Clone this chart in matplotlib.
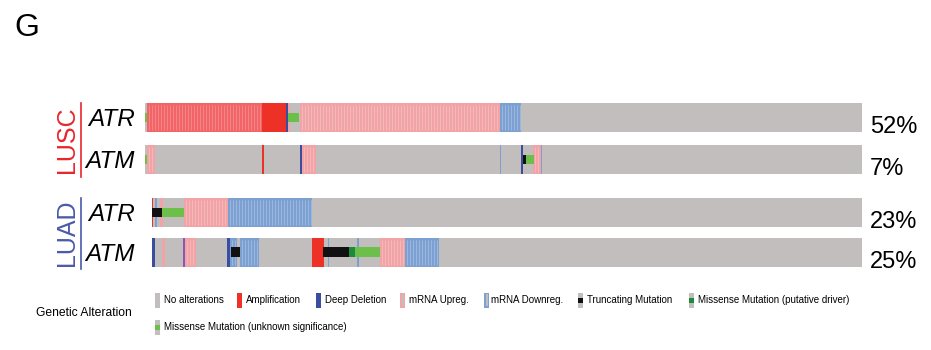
import matplotlib
matplotlib.use("Agg")
import matplotlib.pyplot as plt
from matplotlib.patches import Rectangle

plt.rcParams['font.family'] = ['Liberation Sans', 'DejaVu Sans']

# ---------------- data ----------------
groups = ["LUSC", "LUAD"]
genes = ["ATR", "ATM", "ATR", "ATM"]
percents = ["52%", "7%", "23%", "25%"]
row_start = [0, 0, 7, 7]      # first sample index of each row
n_total = 717                 # last sample index (shared axis)

# (start, end, alteration type) in sample index units
lusc_atr = [(2, 117, "amp_up"), (117, 141, "amp"), (141, 143, "del"), (143, 145, "up"),
            (155, 355, "up"), (355, 376, "down")]
lusc_atr_mut = [(0, 2, "mis"), (143, 154, "mis")]

lusc_atm = [(2, 10, "up"), (117, 119, "amp"), (155, 157, "del"), (157, 171, "up"),
            (354.5, 355.5, "down"), (376, 378, "del"), (388, 396, "up"), (396, 397, "down")]
lusc_atm_mut = [(0, 2, "mis"), (378, 380.5, "trunc"), (380.5, 389, "mis")]

luad_atr = [(7, 8, "amp"), (10, 11.5, "down"), (15, 18, "up"), (39, 83, "up"), (83, 167, "down")]
luad_atr_mut = [(7, 17, "trunc"), (17, 39, "mis")]

luad_atm = [(7, 10, "del"), (17, 20, "up"), (38, 40, "del_up"), (40, 51, "up"),
            (82, 85, "del"), (85, 92, "down"), (95, 114, "down"), (167, 179, "amp"),
            (183, 184, "down"), (212, 214, "down"), (235, 260, "up"), (260, 294, "down")]
luad_atm_mut = [(86, 95, "trunc"), (178, 204, "trunc"), (204, 210, "drv"), (210, 235, "mis")]

rows_cna = [lusc_atr, lusc_atm, luad_atr, luad_atm]
rows_mut = [lusc_atr_mut, lusc_atm_mut, luad_atr_mut, luad_atm_mut]

legend_labels = ["No alterations", "Amplification", "Deep Deletion", "mRNA Upreg.",
                 "mRNA Downreg.", "Truncating Mutation", "Missense Mutation (putative driver)",
                 "Missense Mutation (unknown significance)"]
legend_types = ["none", "amp", "del", "up", "down", "trunc", "drv", "mis"]

# ---------------- style ----------------
GRAY = "#C2BEBD"
colors = {"amp": "#EE3126", "amp_up": "#F26466", "del": "#3A4D9E", "del_up": "#8A58B0",
          "up": "#F2A3A6", "down": "#7CA0D2", "trunc": "#111111", "drv": "#1E8A3C",
          "mis": "#6CC04A"}
stripe = {"amp_up": "#F58C8E", "up": "#F6BDBF", "down": "#A3BCE0"}

fig = plt.figure(figsize=(9.31, 3.5), dpi=100)
px_top, px_bot = 96.5, 272.9
ax = fig.add_axes([145 / 931, 1 - px_bot / 350, 717 / 931, (px_bot - px_top) / 350])
row_y = [0.0, 1.0, 2.26, 3.21]
h = 0.69
ax.set_xlim(0, n_total)
ax.set_ylim(3.7, -0.5)
ax.axis("off")

for i in range(4):
    y = row_y[i]
    s = row_start[i]
    ax.add_patch(Rectangle((s, y - h / 2), n_total - s, h, facecolor=GRAY, edgecolor="none", zorder=1))
    for (a, b, t) in rows_cna[i]:
        ax.add_patch(Rectangle((a, y - h / 2), b - a, h, facecolor=colors[t], edgecolor="none", zorder=1))
        if t in stripe and b - a > 4:
            xs = [a + 1.5 + 3 * k for k in range(int((b - a - 1.5) // 3) + 1) if a + 1.5 + 3 * k < b - 0.5]
            ax.vlines(xs, y - h / 2 + 0.04, y + h / 2 - 0.04, colors=stripe[t], linewidth=0.6, zorder=2)
    for (a, b, t) in rows_mut[i]:
        ax.add_patch(Rectangle((a, y - h / 6), b - a, h / 3, facecolor=colors[t], edgecolor="none", zorder=3))

# gene labels & percentages
for i in range(4):
    ax.text(-10, row_y[i] + 0.05, genes[i], ha="right", va="center", fontsize=17.5,
            style="italic", color="black")
    ax.text(n_total + 8, row_y[i] + 0.22, percents[i], ha="left", va="center",
            fontsize=17, color="black")

# group labels and brackets
grp_colors = ["#E8262D", "#4B5AA8"]
grp_rows = [[0, 1], [2, 3]]
for g in range(2):
    y0 = row_y[grp_rows[g][0]] - h / 2
    y1 = row_y[grp_rows[g][1]] + h / 2
    ax.plot([-64, -64], [y0, y1 + 0.06], color=grp_colors[g], lw=1.2, clip_on=False)
    ax.text(-78, (y0 + y1) / 2 + 0.02, groups[g], rotation=90, ha="center", va="center",
            fontsize=18, color=grp_colors[g])

# panel letter
fig.text(14 / 931, 1 - 28 / 350, "G", fontsize=23, ha="left", va="center")

# ---------------- legend ----------------
lax = fig.add_axes([0, 0, 1, 1])
lax.set_xlim(0, 931)
lax.set_ylim(350, 0)
lax.axis("off")
lax.text(36, 313, "Genetic Alteration", fontsize=8.7, ha="left", va="center")
leg_x = [155, 237, 316, 400, 484, 578, 689, 155]
leg_y = [300, 300, 300, 300, 300, 300, 300, 327]
for x, y, lab, t in zip(leg_x, leg_y, legend_labels, legend_types):
    w, hh = 5, 15
    if t in ("amp", "del"):
        lax.add_patch(Rectangle((x, y - hh / 2), w, hh, facecolor=colors[t], edgecolor="none"))
    elif t in ("up", "down"):
        lax.add_patch(Rectangle((x, y - hh / 2), w, hh, facecolor=colors[t], edgecolor="none"))
        lax.add_patch(Rectangle((x + 1.5, y - hh / 2 + 1.5), w - 3, hh - 3, facecolor=GRAY, edgecolor="none"))
    else:
        lax.add_patch(Rectangle((x, y - hh / 2), w, hh, facecolor=GRAY, edgecolor="none"))
        if t != "none":
            lax.add_patch(Rectangle((x, y - hh / 6), w, hh / 3, facecolor=colors[t], edgecolor="none"))
    tx = x + 9 if t != "down" else x + 7
    lax.text(tx, y, lab, fontsize=7, ha="left", va="center")

fig.savefig("out.png", dpi=100)
